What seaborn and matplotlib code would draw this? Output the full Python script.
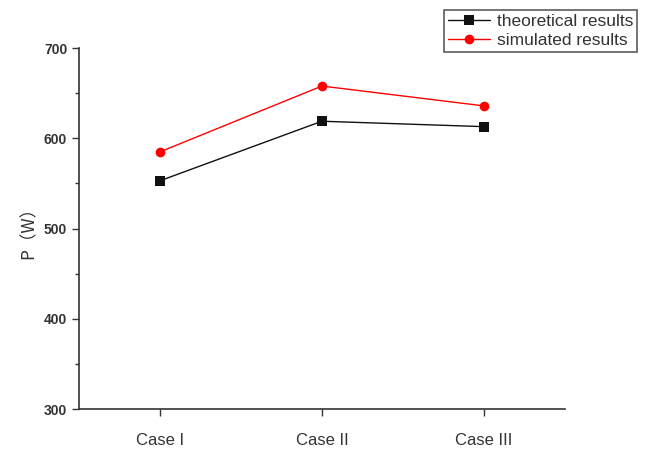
import matplotlib
matplotlib.use("Agg")
import matplotlib.pyplot as plt
import seaborn as sns
import pandas as pd
from matplotlib.ticker import MultipleLocator

cases = ["Case I", "Case II", "Case III"]
theoretical = [553, 619, 613]
simulated = [585, 658, 636]
series_names = ["theoretical results", "simulated results"]

df = pd.DataFrame({
    "case": cases * 2,
    "pos": list(range(len(cases))) * 2,
    "P": theoretical + simulated,
    "series": [series_names[0]] * len(cases) + [series_names[1]] * len(cases),
})

sns.set_style("ticks")
plt.rcParams['font.family'] = ['Liberation Sans', 'Noto Sans CJK SC', 'DejaVu Sans']

fig = plt.figure(figsize=(6.47, 4.5), dpi=100)
ax = fig.add_axes([0.122, 0.091, 0.751, 0.802])

sns.lineplot(data=df, x="pos", y="P", hue="series", style="series",
             palette={series_names[0]: "#111111", series_names[1]: "red"},
             markers={series_names[0]: "s", series_names[1]: "o"},
             dashes=False, markersize=7, linewidth=1.0,
             markeredgewidth=0, ax=ax, legend=True)

ax.set_xlim(-0.5, 2.5)
ax.set_ylim(300, 700)
ax.set_xticks(range(len(cases)))
ax.set_xticklabels(cases, fontsize=12, color="#333333")
ax.yaxis.set_major_locator(MultipleLocator(100))
ax.yaxis.set_minor_locator(MultipleLocator(50))
ax.tick_params(axis="y", labelsize=10, colors="#333333", direction="out", length=5, width=1)
ax.tick_params(axis="y", which="minor", length=3, width=1, color="#333333")
ax.tick_params(axis="x", direction="out", length=5, width=1, color="#333333", pad=12)
for lbl in ax.get_yticklabels():
    lbl.set_fontweight("bold")
ax.set_xlabel("")
ax.set_ylabel("P（W）", fontsize=12.5, color="#333333",
              family=['Noto Sans CJK SC', 'DejaVu Sans'])
ax.yaxis.set_label_coords(-0.085, 0.5)
for s in ["top", "right"]:
    ax.spines[s].set_visible(False)
for s in ["left", "bottom"]:
    ax.spines[s].set_color("#333333")
    ax.spines[s].set_linewidth(1.2)

handles, labels = ax.get_legend_handles_labels()
ax.get_legend().remove()
leg = fig.legend(handles, labels, loc="upper right", bbox_to_anchor=(0.985, 0.978),
                 borderaxespad=0,
                 fontsize=12.5, frameon=True, fancybox=False, edgecolor="#333333",
                 handlelength=2.4, borderpad=0.25, labelspacing=0.2, handletextpad=0.4)
leg.get_frame().set_linewidth(1.2)
for t in leg.get_texts():
    t.set_color("#333333")

fig.savefig("out.png", dpi=100)
